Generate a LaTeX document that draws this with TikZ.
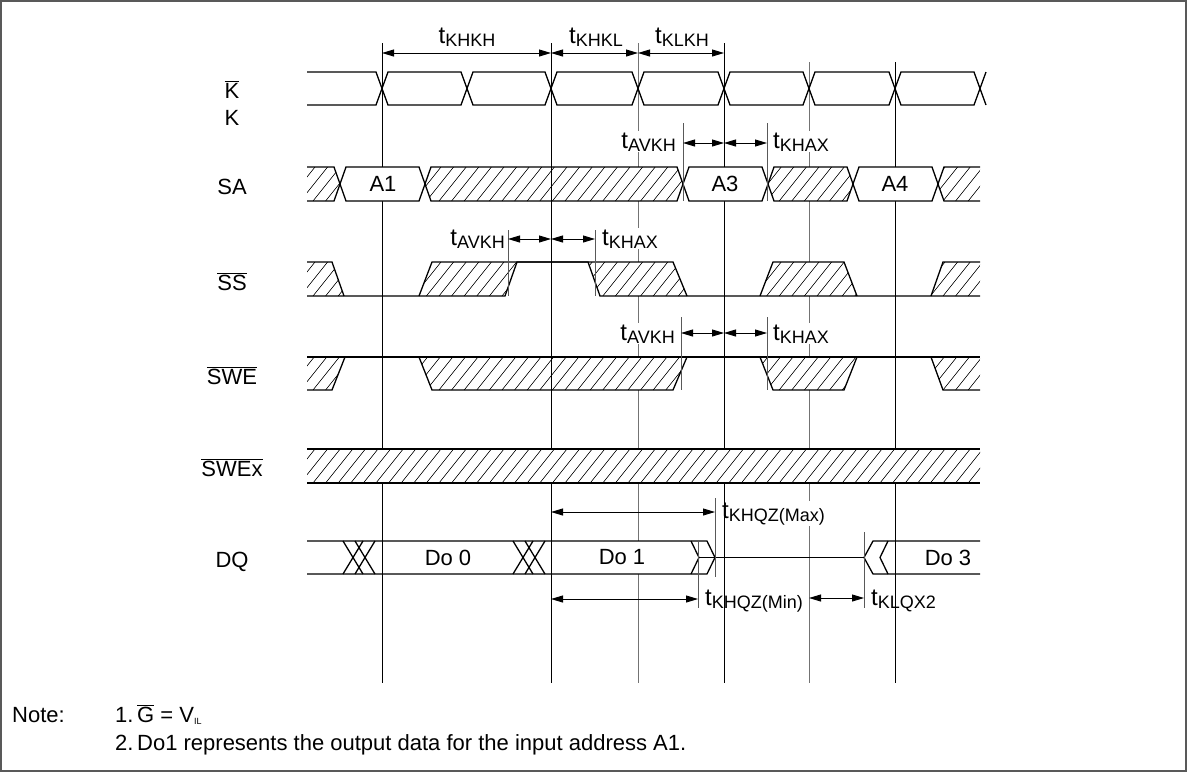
\documentclass[tikz,border=0pt]{standalone}
\usepackage{fontspec}
\setmainfont{Liberation Sans}
\usetikzlibrary{arrows.meta}
\newcommand\tsub[1]{{\fontsize{24}{28}\selectfont t}\raisebox{-3pt}{\fontsize{18}{20}\selectfont #1}}
\newcommand\hatchregion[3]{%
  \begin{scope}
    \clip #3;
    \fill[white] (300,#1) rectangle (990,#2);
    \foreach \hx in {250,262.6,...,1000}{\draw[hatchline] (\hx,#2) -- ({\hx+0.8*(#2-#1)},#1);}
  \end{scope}}
\begin{document}
\begin{tikzpicture}[x=1pt,y=-1pt,
  sig/.style={line width=1.3pt},
  hatchline/.style={line width=0.6pt},
  vblack/.style={line width=0.9pt},
  vgray/.style={line width=0.9pt, draw=black!55},
  tickline/.style={line width=0.9pt, draw=black!65},
  dim/.style={line width=0.9pt, {Triangle[length=12pt,width=7pt]}-{Triangle[length=12pt,width=7pt]}},
  sname/.style={font=\fontsize{22}{26}\selectfont, inner sep=0pt, anchor=base},
  dat/.style={font=\fontsize{22}{26}\selectfont, inner sep=0pt},
  tlab/.style={inner sep=1pt, fill=white},
  note/.style={font=\fontsize{22}{26}\selectfont, inner sep=0pt, anchor=base west}
]
\useasboundingbox (0,0) rectangle (1187,772);
\draw[line width=1.3pt, black!65] (1,1) rectangle (1186,771);

% gray extension lines (behind)
\draw[vgray] (638,43) -- (638,683);
\draw[vgray] (809,62) -- (809,683);

% clock K / K#
\draw[sig] (307,72)--(376,72)--(388,105)--(461,105)--(473,72)--(545,72)--(557,105)--(632,105)--(644,72)--(718,72)--(730,105)--(803,105)--(815,72)--(889,72)--(901,105)--(974,105)--(986,72);
\draw[sig] (307,105)--(376,105)--(388,72)--(461,72)--(473,105)--(545,105)--(557,72)--(632,72)--(644,105)--(718,105)--(730,72)--(803,72)--(815,105)--(889,105)--(901,72)--(974,72)--(986,105);

% SA hatches
\fill[white] (307,167) rectangle (980,201);
\hatchregion{167}{201}{(307,167)--(334,167)--(340,184)--(334,201)--(307,201)--cycle}
\hatchregion{167}{201}{(425,184)--(431,167)--(677,167)--(683,184)--(677,201)--(431,201)--cycle}
\hatchregion{167}{201}{(768,184)--(774,167)--(847,167)--(853,184)--(847,201)--(774,201)--cycle}
\hatchregion{167}{201}{(938,184)--(944,167)--(980,167)--(980,201)--(944,201)--cycle}

% SS#
\hatchregion{262}{296}{(307,262)--(332,262)--(344,296)--(307,296)--cycle}
\hatchregion{262}{296}{(419,296)--(432,262)--(517,262)--(505,296)--cycle}
\hatchregion{262}{296}{(588,262)--(673,262)--(687,296)--(600,296)--cycle}
\hatchregion{262}{296}{(760,296)--(773,262)--(844,262)--(857,296)--cycle}
\hatchregion{262}{296}{(931,296)--(943,262)--(980,262)--(980,296)--cycle}
\draw[sig] (307,262)--(332,262)--(344,296);
\draw[sig] (307,296)--(505,296)--(517,262)--(588,262)--(600,296)--(980,296);
\draw[sig] (419,296)--(432,262)--(673,262)--(687,296);
\draw[sig] (760,296)--(773,262)--(844,262)--(857,296);
\draw[sig] (931,296)--(943,262)--(980,262);

% SWE#
\hatchregion{357}{390}{(307,357)--(345,357)--(332,390)--(307,390)--cycle}
\hatchregion{357}{390}{(419,357)--(687,357)--(673,390)--(432,390)--cycle}
\hatchregion{357}{390}{(760,357)--(857,357)--(844,390)--(773,390)--cycle}
\hatchregion{357}{390}{(931,357)--(980,357)--(980,390)--(943,390)--cycle}
\draw[sig] (307,357)--(980,357);
\draw[sig] (307,390)--(332,390)--(345,357);
\draw[sig] (419,357)--(432,390)--(673,390)--(687,357);
\draw[sig] (760,357)--(773,390)--(844,390)--(857,357);
\draw[sig] (931,357)--(943,390)--(980,390);

% DQ
\fill[white] (307,541)--(707,541)--(715,557.5)--(707,574)--(307,574)--cycle;
\fill[white] (980,541)--(873,541)--(864,557.5)--(873,574)--(980,574)--cycle;
\draw[sig] (307,541)--(707,541)--(715,557.5)--(707,574)--(307,574);
\draw[sig] (691,541)--(699,557.5)--(691,574);
\draw[sig] (699,557.5)--(864,557.5);
\draw[sig] (980,541)--(873,541)--(864,557.5)--(873,574)--(980,574);
\draw[sig] (888,541)--(880,557.5)--(888,574);
\draw[sig] (343,541)--(363,574) (343,574)--(363,541) (355,541)--(375,574) (355,574)--(375,541);
\draw[sig] (513,541)--(533,574) (513,574)--(533,541) (525,541)--(545,574) (525,574)--(545,541);
\node[dat] (do0) at (448,557.5) {Do 0};
\node[dat] (do1) at (622,557.5) {Do 1};
\node[dat] (do3) at (948,557.5) {Do 3};

% timing labels
\node[tlab, anchor=base] (lkhkh) at (467,43) {\tsub{KHKH}};
\node[tlab, anchor=base] (lkhkl) at (596,43) {\tsub{KHKL}};
\node[tlab, anchor=base] (lklkh) at (682,43) {\tsub{KLKH}};
\node[tlab, anchor=base east] (lavkh1) at (677,148) {\tsub{AVKH}};
\node[tlab, anchor=base west] (lkhax1) at (772,148) {\tsub{KHAX}};
\node[tlab, anchor=base east] (lavkh2) at (506,245) {\tsub{AVKH}};
\node[tlab, anchor=base west] (lkhax2) at (601,245) {\tsub{KHAX}};
\node[tlab, anchor=base east] (lavkh3) at (676,340) {\tsub{AVKH}};
\node[tlab, anchor=base west] (lkhax3) at (772,340) {\tsub{KHAX}};
\node[tlab, anchor=base west] (lqzmax) at (721,518) {\tsub{KHQZ(Max)}};
\node[tlab, anchor=base west] (lqzmin) at (704,605) {\tsub{KHQZ(Min)}};
\node[tlab, anchor=base west] (lklqx) at (870,605) {\tsub{KLQX2}};

% SWEx# band
\hatchregion{449}{483}{(307,449) rectangle (980,483)}
\draw[sig] (307,449)--(980,449) (307,483)--(980,483);

% ticks
\draw[tickline] (683,123)--(683,201) (767,123)--(767,201);
\draw[tickline] (508,230)--(508,296) (595,230)--(595,296);
\draw[tickline] (681,317)--(681,390) (767,317)--(767,390);
\draw[tickline] (715,498)--(715,577) (698,541)--(698,608) (864,532)--(864,608);

% black reference lines
\draw[vblack] (382,43)--(382,449) (382,483)--(382,683);
\draw[vblack] (551,43)--(551,449) (551,483)--(551,683);
\draw[vblack] (724,43)--(724,449) (724,483)--(724,683);
\draw[vblack] (895,62)--(895,449) (895,483)--(895,683);

% SA valid boxes (cover the reference lines) and outlines
\fill[white] (340,184)--(346,167)--(419,167)--(425,184)--(419,201)--(346,201)--cycle;
\fill[white] (683,184)--(689,167)--(762,167)--(768,184)--(762,201)--(689,201)--cycle;
\fill[white] (853,184)--(859,167)--(932,167)--(938,184)--(932,201)--(859,201)--cycle;
\draw[sig] (307,167)--(334,167)--(346,201)--(419,201)--(431,167)--(677,167)--(689,201)--(762,201)--(774,167)--(847,167)--(859,201)--(932,201)--(944,167)--(980,167);
\draw[sig] (307,201)--(334,201)--(346,167)--(419,167)--(431,201)--(677,201)--(689,167)--(762,167)--(774,201)--(847,201)--(859,167)--(932,167)--(944,201)--(980,201);
\draw[tickline] (683,160)--(683,201) (767,160)--(767,201);
\node[dat] (a1) at (383,184) {A1};
\node[dat] (a3) at (725,184) {A3};
\node[dat] (a4) at (895,184) {A4};

% dimension arrows
\coordinate (c382t) at (382,53); \coordinate (c551t) at (551,53);
\coordinate (c638t) at (638,53); \coordinate (c724t) at (724,53);
\draw[dim] (c382t) -- (c551t);
\draw[dim] (c551t) -- (c638t);
\draw[dim] (c638t) -- (c724t);
\coordinate (sa1) at (683,143); \coordinate (sa2) at (724,143); \coordinate (sa3) at (767,143);
\draw[dim] (sa1) -- (sa2); \draw[dim] (sa2) -- (sa3);
\coordinate (ss1) at (508,239); \coordinate (ss2) at (551,239); \coordinate (ss3) at (595,239);
\draw[dim] (ss1) -- (ss2); \draw[dim] (ss2) -- (ss3);
\coordinate (sw1) at (681,333); \coordinate (sw2) at (724,333); \coordinate (sw3) at (767,333);
\draw[dim] (sw1) -- (sw2); \draw[dim] (sw2) -- (sw3);
\coordinate (qa1) at (551,512); \coordinate (qa2) at (715,512);
\draw[dim] (qa1) -- (qa2);
\coordinate (qb1) at (551,599); \coordinate (qb2) at (698,599);
\draw[dim] (qb1) -- (qb2);
\coordinate (qc1) at (809,598); \coordinate (qc2) at (864,598);
\draw[dim] (qc1) -- (qc2);

% signal names
\node[sname] (nkb) at (232,98) {$\overline{\mbox{K}}$};
\node[sname] (nk) at (232,125) {K};
\node[sname] (nsa) at (232,194) {SA};
\node[sname] (nss) at (232,290) {$\overline{\mbox{SS}}$};
\node[sname] (nswe) at (232,384) {$\overline{\mbox{SWE}}$};
\node[sname] (nswex) at (232,476) {$\overline{\mbox{SWEx}}$};
\node[sname] (ndq) at (232,567) {DQ};

% notes
\node[note] (nnote) at (12,722) {Note:};
\node[note] (n1) at (115,722) {1.};
\node[note] (n1t) at (137,722) {$\overline{\mbox{G}}$ = V\raisebox{-2pt}{\fontsize{9}{10}\selectfont IL}};
\node[note] (n2) at (115,750) {2.};
\node[note] (n2t) at (137,750) {Do1 represents the output data for the input address A1.};
\end{tikzpicture}
\end{document}
